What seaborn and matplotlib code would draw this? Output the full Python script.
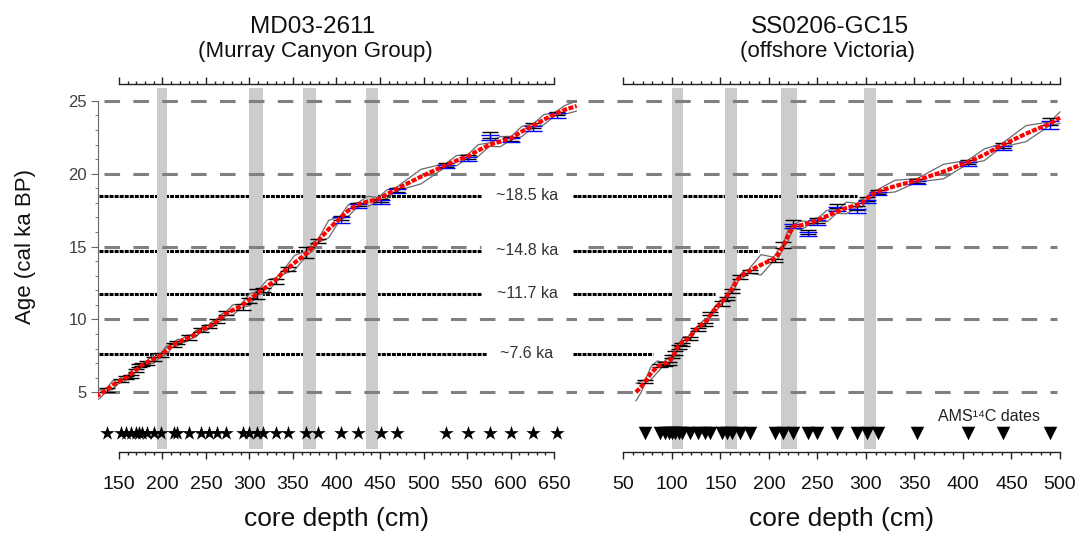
import matplotlib
matplotlib.use('Agg')
import matplotlib.pyplot as plt
import matplotlib.ticker as mticker
import numpy as np
import seaborn as sns

sns.set_style('white')
plt.rcParams['font.family'] = ['Liberation Sans', 'DejaVu Sans']
plt.rcParams['text.color'] = '#111111'
plt.rcParams['axes.labelcolor'] = '#111111'
plt.rcParams['xtick.labelcolor'] = '#111111'

# ---------------- MD03-2611 (Murray Canyon Group) ----------------
md_date_depth = [136.5, 152, 157.7, 163.4, 169, 173, 177, 182.6, 190, 198, 213, 217,
                 230.6, 244, 253.7, 263, 273, 292, 300, 309, 315, 330.5, 344, 365,
                 378.5, 405, 424.5, 451.5, 469, 526, 551, 576, 601, 626, 653]
md_date_age = [5.16, 5.8, 6.0, 6.1, 6.5, 6.85, 6.9, 7.0, 7.3, 7.56, 8.25, 8.4,
               8.75, 9.28, 9.5, 9.9, 10.46, 10.85, 11.3, 11.75, 12.0, 12.6, 13.45, 14.6,
               15.4, 16.95, 17.9, 18.15, 18.9, 20.6, 21.15, 22.65, 22.4, 23.3, 24.15]
md_date_err = [0.12, 0.12, 0.1, 0.1, 0.12, 0.12, 0.1, 0.12, 0.15, 0.12, 0.12, 0.1,
               0.15, 0.15, 0.12, 0.12, 0.15, 0.2, 0.15, 0.35, 0.15, 0.2, 0.15, 0.35,
               0.15, 0.15, 0.12, 0.12, 0.12, 0.12, 0.12, 0.2, 0.12, 0.15, 0.12]
md_blue_depth = [405, 424.5, 451.5, 469, 526, 551, 576, 601, 626, 653]
md_blue_age = [16.8, 17.8, 18.05, 18.8, 20.5, 21.0, 22.5, 22.3, 23.1, 24.0]
md_blue_err = [0.2, 0.12, 0.12, 0.12, 0.12, 0.15, 0.15, 0.12, 0.2, 0.15]

md_curve_depth = [123.5, 136.5, 143, 150, 155, 160, 165, 170, 175, 181, 190, 198, 205,
                  211, 217, 223, 228, 233, 238, 244, 249, 254, 258, 263, 268, 273, 281,
                  290, 300, 309, 320, 331, 335, 338, 352, 367, 373, 379, 391, 404, 414,
                  425, 436, 448, 458, 469, 497, 526, 538, 551, 563, 576, 588, 601, 613,
                  626, 638, 651, 663, 676]
md_curve_age = [4.7, 5.2, 5.5, 5.75, 5.9, 6.05, 6.3, 6.55, 6.8, 7.0, 7.3, 7.55, 7.9,
                8.2, 8.4, 8.55, 8.7, 8.8, 9.0, 9.25, 9.4, 9.5, 9.7, 9.9, 10.15, 10.4, 10.65,
                10.9, 11.35, 11.8, 12.25, 12.75, 13.0, 13.2, 13.9, 14.6, 15.0, 15.4, 16.2,
                16.95, 17.5, 17.9, 18.1, 18.25, 18.6, 18.95, 19.8, 20.6, 20.9, 21.2, 21.6,
                22.0, 22.2, 22.45, 22.9, 23.3, 23.7, 24.1, 24.4, 24.65]
md_env_half = [0.35, 0.12, 0.3, 0.12, 0.22, 0.12, 0.22, 0.12, 0.12, 0.12, 0.3, 0.12, 0.3,
               0.12, 0.22, 0.12, 0.22, 0.12, 0.22, 0.12, 0.22, 0.12, 0.22, 0.12, 0.22, 0.12,
               0.35, 0.12, 0.4, 0.12, 0.45, 0.12, 0.15, 0.12, 0.5, 0.12, 0.3, 0.12, 0.6,
               0.12, 0.4, 0.12, 0.35, 0.12, 0.3, 0.12, 0.5, 0.12, 0.35, 0.12, 0.4, 0.12,
               0.35, 0.12, 0.35, 0.12, 0.35, 0.12, 0.3, 0.35]
md_bands = [(194, 205), (299, 315), (361, 377), (434, 448)]

# ---------------- SS0206-GC15 (offshore Victoria) ----------------
ss_date_depth = [72.7, 88, 93, 96.7, 100, 103.5, 107, 110, 119, 127.5, 134.4, 139.6,
                 151.6, 156.8, 162, 170.5, 180.8, 206.5, 215, 225.4, 240.8, 250, 270,
                 290.6, 301, 312, 353, 405, 441, 489.7]
ss_date_age = [5.73, 6.85, 6.95, 7.0, 7.45, 7.7, 8.1, 8.3, 8.7, 9.3, 9.65, 10.4,
               11.1, 11.45, 11.95, 12.9, 13.3, 14.05, 15.1, 16.6, 16.0, 16.8, 17.8,
               17.65, 18.25, 18.75, 19.5, 20.8, 21.95, 23.6]
ss_date_err = [0.12, 0.12, 0.12, 0.1, 0.12, 0.12, 0.12, 0.1, 0.12, 0.12, 0.12, 0.12,
               0.15, 0.12, 0.12, 0.15, 0.12, 0.12, 0.2, 0.2, 0.12, 0.15, 0.15,
               0.12, 0.15, 0.12, 0.12, 0.12, 0.15, 0.25]
ss_blue_depth = [225.4, 240.8, 250, 270, 290.6, 301, 312, 353, 405, 441, 489.7]
ss_blue_age = [16.4, 15.85, 16.65, 17.6, 17.45, 18.1, 18.65, 19.4, 20.65, 21.75, 23.35]
ss_blue_err = [0.15, 0.15, 0.15, 0.15, 0.12, 0.12, 0.12, 0.12, 0.15, 0.15, 0.25]

ss_curve_depth = [63, 68, 72.7, 79, 85, 91.5, 96, 100, 103.5, 107, 112, 117, 121, 124,
                  129, 133, 136, 141, 146, 150, 155, 160, 164, 169, 174, 179, 192, 205,
                  210, 215, 220, 225.5, 233, 241, 246, 251, 260, 270, 280, 291, 296,
                  301, 306, 311, 330, 353, 380, 405, 422, 440, 465, 490, 500]
ss_curve_age = [5.0, 5.35, 5.75, 6.35, 6.75, 6.95, 7.05, 7.3, 7.8, 8.2, 8.5, 8.7, 9.0,
                9.25, 9.55, 9.75, 9.9, 10.45, 10.8, 11.1, 11.45, 11.9, 12.3, 12.85, 13.1,
                13.3, 13.75, 14.15, 14.5, 15.05, 15.8, 16.4, 16.45, 16.6, 16.7, 16.85,
                17.1, 17.4, 17.65, 17.85, 18.0, 18.3, 18.55, 18.75, 19.15, 19.55, 20.15,
                20.8, 21.3, 21.95, 22.75, 23.45, 23.85]
ss_env_half = [0.6, 0.4, 0.12, 0.45, 0.4, 0.12, 0.3, 0.12, 0.3, 0.12, 0.3, 0.12, 0.22, 0.12,
               0.12, 0.22, 0.12, 0.12, 0.22, 0.12, 0.12, 0.12, 0.3, 0.12, 0.22, 0.12, 0.7,
               0.12, 0.3, 0.12, 0.4, 0.12, 0.3, 0.12, 0.22, 0.12, 0.4, 0.12, 0.4, 0.12, 0.3,
               0.12, 0.22, 0.12, 0.4, 0.12, 0.5, 0.12, 0.4, 0.12, 0.55, 0.12, 0.4]
ss_bands = [(100.5, 112), (155, 167), (213, 229), (298, 310)]

# ---------------- shared annotation values ----------------
event_ages = [18.5, 14.7, 11.75, 7.63]
event_labels = ['~18.5 ka', '~14.8 ka', '~11.7 ka', '~7.6 ka']
event_md_end = [566, 566, 566, 573]
event_ss_end = [291, 190, 144, 81]
grid_ages = [5, 10, 15, 20, 25]
grid_md_end = [676.4, 676.4, 566, 676.4, 676.4]

md_xlim = (125.9, 676.4)
ss_xlim = (2.3, 505.2)
ylim = (0.9, 26.16)
band_span = (1.1, 25.9)
marker_age = 2.2

GRID_STYLE = dict(color='#808080', lw=2.2, linestyle=(0, (5.1, 4.35)), zorder=3,
                  solid_capstyle='butt')
EVENT_STYLE = dict(color='black', lw=2.2, linestyle=(0, (1.3, 0.35)), zorder=1)


def draw_core(ax, curve_d, curve_a, half, date_d, date_a, date_e,
              blue_d, blue_a, blue_e, bands):
    for a, b in bands:
        ax.fill_between([a, b], band_span[0], band_span[1], color='#cccccc', lw=0, zorder=2)
    up = np.array(curve_a) + np.array(half)
    lo = np.array(curve_a) - np.array(half)
    for env in (up, lo):
        sns.lineplot(x=curve_d, y=env, ax=ax, color='#6a6a6a', lw=0.9, sort=False,
                     estimator=None, zorder=4)
    ax.errorbar(date_d, date_a, yerr=date_e, fmt='none', ecolor='black', elinewidth=1,
                capsize=6, capthick=1, zorder=5)
    ax.errorbar(blue_d, blue_a, yerr=blue_e, fmt='none', ecolor='#0000ff', elinewidth=1,
                capsize=6.5, capthick=1, zorder=5)
    sns.lineplot(x=curve_d, y=curve_a, ax=ax, color='#ff0000', lw=3, sort=False,
                 estimator=None, linestyle=(0, (1.2, 0.4)), zorder=6)


fig = plt.figure(figsize=(10.83, 5.33), dpi=100)
ax1 = fig.add_axes([98 / 1083, 1 - 452 / 533, 479 / 1083, 368 / 533])
ax2 = fig.add_axes([577 / 1083, 1 - 452 / 533, 488 / 1083, 368 / 533])

# ---- left panel ----
for age, end in zip(event_ages, event_md_end):
    ax1.plot([127, end], [age, age], **EVENT_STYLE)
    ax1.plot([671.8, md_xlim[1]], [age, age], **EVENT_STYLE)
for age, end in zip(grid_ages, grid_md_end):
    ax1.plot([132.7, end], [age, age], **GRID_STYLE)
draw_core(ax1, md_curve_depth, md_curve_age, md_env_half, md_date_depth, md_date_age,
          md_date_err, md_blue_depth, md_blue_age, md_blue_err, md_bands)
sns.scatterplot(x=md_date_depth, y=[marker_age] * len(md_date_depth), ax=ax1,
                marker='*', s=120, color='black', linewidth=0, zorder=7)
for age, lab in zip(event_ages, event_labels):
    ax1.text(619, age, lab, ha='center', va='center', fontsize=11.5, color='#333333')

# ---- right panel ----
for age, end in zip(event_ages, event_ss_end):
    ax2.plot([ss_xlim[0], end], [age, age], **EVENT_STYLE)
for age in grid_ages:
    ax2.plot([14, 497], [age, age], **GRID_STYLE)
draw_core(ax2, ss_curve_depth, ss_curve_age, ss_env_half, ss_date_depth, ss_date_age,
          ss_date_err, ss_blue_depth, ss_blue_age, ss_blue_err, ss_bands)
sns.scatterplot(x=ss_date_depth, y=[marker_age] * len(ss_date_depth), ax=ax2,
                marker='v', s=95, color='black', linewidth=0, zorder=7)
ax2.text(427, 3.37, 'AMS¹⁴C dates', ha='center', va='center', fontsize=11.5,
         color='#222222')

# ---- axes cosmetics ----
for ax, xlim, lo, hi in [(ax1, md_xlim, 150, 650), (ax2, ss_xlim, 50, 500)]:
    ax.set_xlim(*xlim)
    ax.set_ylim(*ylim)
    ax.set_facecolor('none')
    ax.spines['right'].set_visible(False)
    for s in ('top', 'bottom'):
        ax.spines[s].set_bounds(lo, hi)
        ax.spines[s].set_color('#222222')
        ax.spines[s].set_linewidth(1)
    ax.xaxis.set_major_locator(mticker.FixedLocator(list(range(lo, hi + 1, 50))))
    ax.xaxis.set_minor_locator(mticker.FixedLocator(list(range(lo, hi + 1, 10))))
    ax.tick_params(axis='x', which='both', top=True, bottom=True, labeltop=False,
                   direction='out', color='#222222', labelsize=14, pad=12)
    ax.tick_params(axis='x', which='major', length=5, width=1)
    ax.tick_params(axis='x', which='minor', length=2.5, width=1)
    ax.set_xlabel('core depth (cm)', fontsize=19)
    ax.set_ylabel('')

ax1.xaxis.set_label_coords((336.5 - 98) / 479, -0.15)
ax2.xaxis.set_label_coords((841.5 - 577) / 488, -0.15)

ax1.spines['left'].set_bounds(5, 25)
ax1.spines['left'].set_color('#666666')
ax1.yaxis.set_major_locator(mticker.FixedLocator(grid_ages))
ax1.yaxis.set_minor_locator(mticker.FixedLocator(list(range(5, 26))))
ax1.tick_params(axis='y', which='both', left=True, direction='out', color='#666666',
                labelsize=12, labelcolor='#404040', pad=3)
ax1.tick_params(axis='y', which='major', length=5)
ax1.tick_params(axis='y', which='minor', length=2.5)
ax1.set_ylabel('Age (cal ka BP)', fontsize=16)
ax1.yaxis.set_label_coords(-0.129, (452 - 246.5) / 368)

ax2.spines['left'].set_visible(False)
ax2.set_yticks([])

fig.text(313 / 1083, 1 - 27 / 533, 'MD03-2611', ha='center', va='center', fontsize=17.5)
fig.text(315 / 1083, 1 - 51 / 533, '(Murray Canyon Group)', ha='center', va='center',
         fontsize=16)
fig.text(830 / 1083, 1 - 27 / 533, 'SS0206-GC15', ha='center', va='center', fontsize=17.5)
fig.text(828 / 1083, 1 - 51 / 533, '(offshore Victoria)', ha='center', va='center',
         fontsize=16)

fig.savefig('out.png', dpi=100)
